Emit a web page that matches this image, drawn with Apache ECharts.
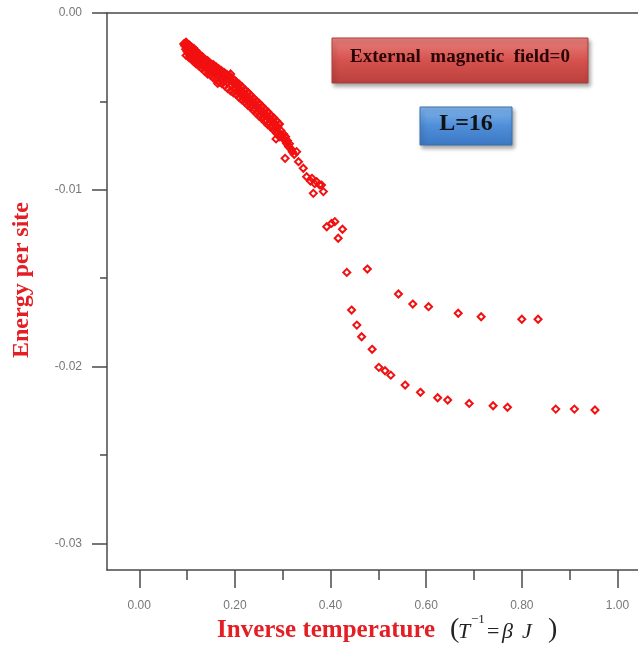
<!DOCTYPE html>
<html>
<head>
<meta charset="utf-8">
<script src="https://cdn.jsdelivr.net/npm/echarts@6/dist/echarts.min.js"></script>
<style>
  html, body { margin: 0; padding: 0; background: #fff; }
  #main { width: 638px; height: 645px; }
</style>
</head>
<body>
<div id="main"></div>
<script>
// dense band (high temperature side), core of the band
const bandBeta = [
  0.095, 0.097, 0.099, 0.100, 0.102, 0.103, 0.105, 0.106, 0.108, 0.110, 0.111, 0.113, 0.115, 0.116,
  0.118, 0.120, 0.122, 0.124, 0.126, 0.128, 0.130, 0.132, 0.134, 0.136, 0.138, 0.140, 0.142, 0.144,
  0.146, 0.148, 0.150, 0.152, 0.154, 0.156, 0.158, 0.160, 0.162, 0.164, 0.165, 0.167, 0.169, 0.171,
  0.173, 0.175, 0.177, 0.179, 0.181, 0.183, 0.185, 0.187, 0.189, 0.191, 0.193, 0.195, 0.197, 0.199,
  0.201, 0.203, 0.205, 0.207, 0.209, 0.211, 0.213, 0.215, 0.217, 0.219, 0.221, 0.223, 0.225, 0.227,
  0.229, 0.231, 0.233, 0.235, 0.237, 0.239, 0.241, 0.243, 0.245, 0.247, 0.249, 0.251, 0.253, 0.255,
  0.257, 0.259, 0.261, 0.263, 0.265, 0.267, 0.269, 0.271, 0.273, 0.275, 0.277, 0.279, 0.281, 0.283,
  0.286, 0.285, 0.288, 0.290, 0.292, 0.294, 0.296, 0.298, 0.300, 0.302, 0.304, 0.306, 0.308, 0.310,
  0.312, 0.314, 0.317, 0.320, 0.305, 0.324, 0.329, 0.333, 0.343, 0.350, 0.361, 0.371, 0.381, 0.364,
  0.385, 0.358, 0.367, 0.377
];
const bandEnergy = [
  -0.00185, -0.00205, -0.00192, -0.00218, -0.00200, -0.00232, -0.00212, -0.00190, -0.00245, -0.00222, -0.00205, -0.00255, -0.00235, -0.00218,
  -0.00268, -0.00245, -0.00228, -0.00282, -0.00262, -0.00245, -0.00295, -0.00272, -0.00258, -0.00305, -0.00288, -0.00270, -0.00318, -0.00298,
  -0.00282, -0.00328, -0.00308, -0.00292, -0.00338, -0.00320, -0.00302, -0.00350, -0.00330, -0.00398, -0.00315, -0.00358, -0.00340, -0.00325,
  -0.00370, -0.00352, -0.00336, -0.00382, -0.00365, -0.00348, -0.00395, -0.00378, -0.00360, -0.00345, -0.00410, -0.00392, -0.00375, -0.00425,
  -0.00405, -0.00390, -0.00442, -0.00420, -0.00403, -0.00458, -0.00438, -0.00420, -0.00475, -0.00455, -0.00436, -0.00490, -0.00470, -0.00452,
  -0.00508, -0.00486, -0.00468, -0.00524, -0.00502, -0.00485, -0.00540, -0.00518, -0.00500, -0.00556, -0.00535, -0.00516, -0.00572, -0.00550,
  -0.00532, -0.00588, -0.00566, -0.00548, -0.00605, -0.00582, -0.00565, -0.00622, -0.00600, -0.00582, -0.00636, -0.00615, -0.00598, -0.00650,
  -0.00712, -0.00630, -0.00665, -0.00645, -0.00628, -0.00685, -0.00665, -0.00690, -0.00705, -0.00685, -0.00720, -0.00700, -0.00738, -0.00722,
  -0.00755, -0.00740, -0.00768, -0.00785, -0.00822, -0.00800, -0.00784, -0.00841, -0.00878, -0.00926, -0.00935, -0.00954, -0.00973, -0.01020,
  -0.01010, -0.00950, -0.00965, -0.00972
];
// edges of the dense band
const edgeBeta = [
  0.093, 0.096, 0.098, 0.098, 0.104, 0.104, 0.109, 0.109, 0.114, 0.114, 0.119, 0.119, 0.125, 0.125, 0.131, 0.131,
  0.137, 0.137, 0.143, 0.143, 0.149, 0.149, 0.155, 0.155, 0.161, 0.161, 0.167, 0.167, 0.173, 0.173,
  0.179, 0.179, 0.185, 0.185, 0.191, 0.191, 0.197, 0.197, 0.203, 0.203, 0.209, 0.209, 0.215, 0.215,
  0.221, 0.221, 0.227, 0.227, 0.233, 0.233, 0.239, 0.239, 0.245, 0.245, 0.251, 0.251, 0.257, 0.257,
  0.263, 0.263, 0.269, 0.269, 0.275, 0.275, 0.281, 0.281, 0.287, 0.287, 0.293, 0.293
];
const edgeEnergy = [
  -0.00175, -0.00170, -0.00165, -0.00240, -0.00180, -0.00252, -0.00192, -0.00262, -0.00200, -0.00275, -0.00215, -0.00288, -0.00232, -0.00300, -0.00245, -0.00315,
  -0.00262, -0.00330, -0.00270, -0.00345, -0.00285, -0.00352, -0.00292, -0.00368, -0.00305, -0.00375, -0.00318, -0.00390, -0.00330, -0.00400,
  -0.00340, -0.00412, -0.00355, -0.00428, -0.00362, -0.00440, -0.00378, -0.00452, -0.00392, -0.00462, -0.00405, -0.00478, -0.00418, -0.00492,
  -0.00435, -0.00505, -0.00448, -0.00522, -0.00465, -0.00535, -0.00482, -0.00552, -0.00498, -0.00568, -0.00512, -0.00585, -0.00528, -0.00598,
  -0.00545, -0.00615, -0.00560, -0.00632, -0.00578, -0.00645, -0.00592, -0.00662, -0.00610, -0.00680, -0.00628, -0.00700
];
// small cluster near the transition
const midBeta = [0.392, 0.402, 0.409, 0.425, 0.416];
const midEnergy = [-0.01209, -0.01190, -0.01180, -0.01223, -0.01274];
// upper branch
const upperBeta = [0.434, 0.477, 0.542, 0.572, 0.605, 0.667, 0.715, 0.800, 0.834];
const upperEnergy = [-0.01467, -0.01448, -0.01589, -0.01646, -0.01661, -0.01698, -0.01718, -0.01732, -0.01732];
// lower branch
const lowerBeta = [0.444, 0.455, 0.465, 0.487, 0.501, 0.514, 0.526, 0.556, 0.588, 0.624, 0.645, 0.690, 0.740, 0.770, 0.871, 0.910, 0.953];
const lowerEnergy = [-0.01680, -0.01765, -0.01831, -0.01902, -0.02004, -0.02023, -0.02048, -0.02104, -0.02145, -0.02176, -0.02189, -0.02208, -0.02221, -0.02230, -0.02240, -0.02240, -0.02245];

const xTicks = [0, 0.2, 0.4, 0.6, 0.8, 1.0];
const xMinorTicks = [0.1, 0.3, 0.5, 0.7, 0.9];
const yTicks = [0, -0.01, -0.02, -0.03];
const yMinorTicks = [-0.005, -0.015, -0.025];

const pairs = (xs, ys) => xs.map((x, i) => [x, ys[i]]);
const points = [].concat(
  pairs(edgeBeta, edgeEnergy),
  pairs(bandBeta, bandEnergy),
  pairs(midBeta, midEnergy),
  pairs(upperBeta, upperEnergy),
  pairs(lowerBeta, lowerEnergy)
);

const axisColor = "#4a4a4a";
const labelStyle = { color: "#777", fontSize: 12, fontFamily: "Liberation Sans" };
const xRange = { min: -0.0675, max: 1.043 };
const yRange = { min: -0.0315, max: 0 };

const myChart = echarts.init(document.getElementById("main"));
let option = {
  animation: false,
  grid: { left: 107, right: 0, top: 13, bottom: 75 },
  xAxis: [
    {
      type: "value", min: xRange.min, max: xRange.max, position: "bottom",
      axisLine: { show: true, onZero: false, lineStyle: { color: axisColor, width: 1.5 } },
      axisTick: { show: true, customValues: xTicks, length: 18, lineStyle: { color: axisColor, width: 1.5 } },
      axisLabel: Object.assign({ customValues: xTicks, margin: 30, formatter: (v) => v.toFixed(2) }, labelStyle),
      splitLine: { show: false },
    },
    {
      type: "value", min: xRange.min, max: xRange.max, position: "bottom",
      axisLine: { show: false, onZero: false },
      axisTick: { show: true, customValues: xMinorTicks, length: 10, lineStyle: { color: axisColor, width: 1.5 } },
      axisLabel: { show: false },
      splitLine: { show: false },
    },
    {
      type: "value", min: xRange.min, max: xRange.max, position: "top",
      axisLine: { show: true, onZero: false, lineStyle: { color: axisColor, width: 1.5 } },
      axisTick: { show: false },
      axisLabel: { show: false },
      splitLine: { show: false },
    },
  ],
  yAxis: [
    {
      type: "value", min: yRange.min, max: yRange.max, position: "left",
      axisLine: { show: true, onZero: false, lineStyle: { color: axisColor, width: 1.5 } },
      axisTick: { show: true, customValues: yTicks, length: 15, lineStyle: { color: axisColor, width: 1.5 } },
      axisLabel: Object.assign({ customValues: yTicks, margin: 25, formatter: (v) => v.toFixed(2) }, labelStyle),
      splitLine: { show: false },
    },
    {
      type: "value", min: yRange.min, max: yRange.max, position: "left",
      axisLine: { show: false, onZero: false },
      axisTick: { show: true, customValues: yMinorTicks, length: 7, lineStyle: { color: axisColor, width: 1.5 } },
      axisLabel: { show: false },
      splitLine: { show: false },
    },
  ],
  series: [
    {
      type: "scatter",
      xAxisIndex: 0,
      yAxisIndex: 0,
      symbol: "diamond",
      symbolSize: 7,
      itemStyle: { color: "rgba(255,255,255,0)", borderColor: "#f21010", borderWidth: 2, opacity: 1 },
      emphasis: { disabled: true },
      data: points,
    },
  ],
  graphic: [
    {
      type: "text", x: 22, y: 280, rotation: Math.PI / 2,
      style: { text: "Energy per site", fill: "#e31e24", font: "bold 24px 'Liberation Serif'", textAlign: "center", textVerticalAlign: "middle" },
    },
    {
      type: "text", x: 217, y: 631,
      style: { text: "Inverse temperature", fill: "#e31e24", font: "bold 25px 'Liberation Serif'", textAlign: "left", textVerticalAlign: "middle" },
    },
    { type: "text", x: 450, y: 630, style: { text: "(", fill: "#222", font: "28px 'Liberation Serif'", textVerticalAlign: "middle" } },
    { type: "text", x: 458, y: 632, style: { text: "T", fill: "#222", font: "italic 22px 'Liberation Serif'", textVerticalAlign: "middle" } },
    { type: "text", x: 471, y: 620, style: { text: "\u22121", fill: "#222", font: "13px 'Liberation Serif'", textVerticalAlign: "middle" } },
    { type: "text", x: 487, y: 632, style: { text: "=", fill: "#222", font: "22px 'Liberation Serif'", textVerticalAlign: "middle" } },
    { type: "text", x: 502, y: 632, style: { text: "\u03b2", fill: "#222", font: "italic 22px 'Liberation Serif'", textVerticalAlign: "middle" } },
    { type: "text", x: 522, y: 632, style: { text: "J", fill: "#222", font: "italic 22px 'Liberation Serif'", textVerticalAlign: "middle" } },
    { type: "text", x: 548, y: 630, style: { text: ")", fill: "#222", font: "28px 'Liberation Serif'", textVerticalAlign: "middle" } },
    {
      type: "rect",
      shape: { x: 332, y: 38, width: 256, height: 45 },
      style: {
        fill: new echarts.graphic.LinearGradient(0, 0, 0, 1, [
          { offset: 0, color: "#e8827e" },
          { offset: 0.5, color: "#d6524e" },
          { offset: 1, color: "#b9403c" },
        ]),
        stroke: "#a8403c", lineWidth: 1,
        shadowBlur: 4, shadowOffsetX: 2, shadowOffsetY: 3, shadowColor: "rgba(0,0,0,0.35)",
      },
    },
    {
      type: "text", x: 460, y: 57,
      style: { text: "External  magnetic  field=0", fill: "#2a0505", font: "bold 19px 'Liberation Serif'", textAlign: "center", textVerticalAlign: "middle" },
    },
    {
      type: "rect",
      shape: { x: 420, y: 107, width: 92, height: 38 },
      style: {
        fill: new echarts.graphic.LinearGradient(0, 0, 0, 1, [
          { offset: 0, color: "#82b6ec" },
          { offset: 0.5, color: "#4f8ed8" },
          { offset: 1, color: "#3c78c4" },
        ]),
        stroke: "#3a6fae", lineWidth: 1,
        shadowBlur: 4, shadowOffsetX: 2, shadowOffsetY: 3, shadowColor: "rgba(0,0,0,0.35)",
      },
    },
    {
      type: "text", x: 466, y: 124,
      style: { text: "L=16", fill: "#111", font: "bold 24px 'Liberation Serif'", textAlign: "center", textVerticalAlign: "middle" },
    },
  ],
};
myChart.setOption(option);
</script>
</body>
</html>
